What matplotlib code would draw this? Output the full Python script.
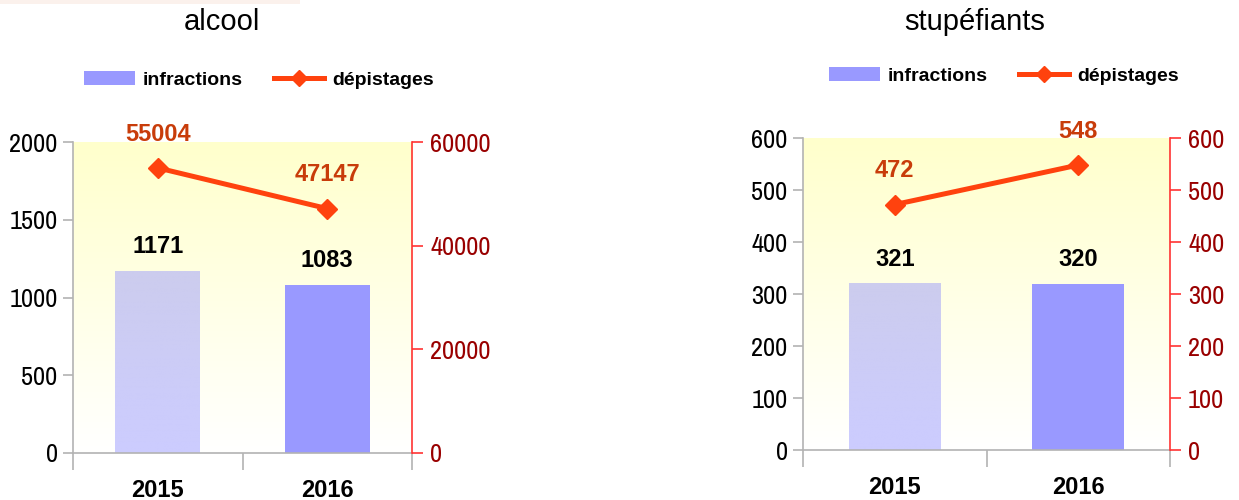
import numpy as np
import matplotlib
matplotlib.use('Agg')
import matplotlib.pyplot as plt
from matplotlib.colors import LinearSegmentedColormap
from matplotlib.lines import Line2D
from matplotlib.patches import Patch, Rectangle

# data
years = ['2015', '2016']
alcool_infractions = [1171, 1083]
alcool_depistages = [55004, 47147]
stup_infractions = [321, 320]
stup_depistages = [472, 548]

NARROW = ['Archivo Narrow', 'Liberation Sans', 'DejaVu Sans']
REG = ['Liberation Sans', 'DejaVu Sans']
plt.rcParams['font.family'] = REG

BAR1 = '#ccccff'
BAR2 = '#9999ff'
LINE = '#ff420e'
LBL_LINE = '#c83c0a'
GRAY = '#b3b3b3'
RED_AX = '#ff3333'
RED_TXT = '#990000'

bg_cmap = LinearSegmentedColormap.from_list('bg', ['#ffffff', '#ffffcc'])
bar_cmap = LinearSegmentedColormap.from_list('bar', ['#ccccff', '#ccccee'])


def panel(fig, rect, title, title_xy, leg_xy, infr, dep, lmax, lstep, rmax, rstep):
    ax = fig.add_axes(rect)
    ax.set_xlim(-0.5, 1.5)
    ax.set_ylim(0, lmax)
    ax.set_facecolor('none')
    grad = np.linspace(0, 1, 256).reshape(-1, 1)
    ax.imshow(grad, cmap=bg_cmap, extent=[-0.5, 1.5, 0, lmax], aspect='auto',
              origin='lower', zorder=0)

    x = np.arange(len(years))
    bars = ax.bar(x, infr, width=0.5, color=[BAR1, BAR2], zorder=2)
    # soft gradient on the first bar
    b = bars[0]
    im = ax.imshow(grad, cmap=bar_cmap, extent=[b.get_x(), b.get_x() + b.get_width(), 0, b.get_height()],
                   aspect='auto', origin='lower', zorder=2.5)
    im.set_clip_path(b)
    ax.set_xlim(-0.5, 1.5)
    ax.set_ylim(0, lmax)

    for xi, v in zip(x, infr):
        ax.annotate(str(v), (xi, v), xytext=(0, 9), textcoords='offset points',
                    ha='center', va='bottom', fontsize=17, fontweight='bold',
                    family=REG, color='black', zorder=5)

    ax.set_yticks(np.arange(0, lmax + 1, lstep))
    ax.set_xticks(x)
    ax.set_xticklabels(years, fontsize=17, fontweight='bold', family=REG)
    ax.set_xticks([-0.5, 0.5, 1.5], minor=True)
    ax.tick_params(axis='x', which='major', length=0, pad=19)
    ax.tick_params(axis='x', which='minor', length=12, color=GRAY, width=1.2)
    ax.tick_params(axis='y', length=7, color=GRAY, width=1.2, pad=4, labelsize=19)
    for lab in ax.get_yticklabels():
        lab.set_family(NARROW)
    for s in ['top', 'right']:
        ax.spines[s].set_visible(False)
    for s in ['left', 'bottom']:
        ax.spines[s].set_color(GRAY)
        ax.spines[s].set_linewidth(1.2)

    ax2 = ax.twinx()
    ax2.set_ylim(0, rmax)
    ax2.plot(x, dep, color=LINE, lw=3.6, marker='D', ms=10, zorder=4)
    for xi, v in zip(x, dep):
        ax2.annotate(str(v), (xi, v), xytext=(0, 16), textcoords='offset points',
                     ha='center', va='bottom', fontsize=17, fontweight='bold',
                     family=REG, color=LBL_LINE)
    ax2.set_yticks(np.arange(0, rmax + 1, rstep))
    ax2.tick_params(axis='y', length=8, color=RED_AX, width=1.2, pad=5,
                    labelsize=19, labelcolor=RED_TXT)
    for lab in ax2.get_yticklabels():
        lab.set_family(NARROW)
    for s in ['top', 'left', 'bottom']:
        ax2.spines[s].set_visible(False)
    ax2.spines['right'].set_color(RED_AX)
    ax2.spines['right'].set_linewidth(1.2)

    fig.text(title_xy[0], title_xy[1], title, ha='center', va='center', fontsize=21)

    handles = [Patch(facecolor=BAR2, edgecolor='none'),
               Line2D([], [], color=LINE, lw=3.6, marker='D', ms=8)]
    fig.legend(handles, ['infractions', 'dépistages'], loc='center',
               bbox_to_anchor=leg_xy, ncol=2, frameon=False,
               prop={'family': REG, 'weight': 'bold', 'size': 14},
               handlelength=2.6, handleheight=0.67, handletextpad=0.4,
               columnspacing=1.6)
    return ax, ax2


W, H = 1239, 500
fig = plt.figure(figsize=(W / 100, H / 100), dpi=100)
fig.patches.append(Rectangle((0, 1 - 4 / H), 300 / W, 4 / H, transform=fig.transFigure,
                             facecolor='#fbf1ec', edgecolor='none'))

panel(fig, [73 / W, 1 - 453 / H, 339 / W, 311 / H], 'alcool', (222 / W, 1 - 22 / H),
      (259 / W, 1 - 80 / H), alcool_infractions, alcool_depistages, 2000, 500, 60000, 20000)
panel(fig, [803 / W, 1 - 450 / H, 367 / W, 312 / H], 'stupéfiants', (975 / W, 1 - 22 / H),
      (1004 / W, 1 - 76 / H), stup_infractions, stup_depistages, 600, 100, 600, 100)

fig.savefig('out.png', dpi=100)
